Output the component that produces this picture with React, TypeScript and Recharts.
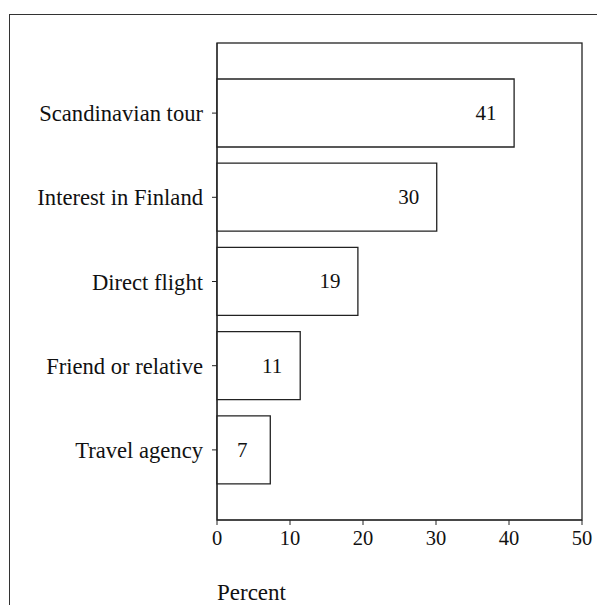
import React from 'react';
import { BarChart, Bar, XAxis, YAxis, LabelList } from 'recharts';

const reasons = ['Scandinavian tour', 'Interest in Finland', 'Direct flight', 'Friend or relative', 'Travel agency'];
const percents = [40.7, 30.1, 19.3, 11.4, 7.3];
const xTicks = [0, 10, 20, 30, 40, 50];

const data = reasons.map((reason, i) => ({ reason, percent: percents[i] }));

const W = 589;
const H = 597;
const margin = { top: 35, right: 15, bottom: 5, left: 0 };
const yAxisWidth = 209;
const xAxisHeight = 80;
const font = '"Liberation Serif", "Times New Roman", serif';
const ink = '#222';

function PlotFrame() {
  const x = margin.left + yAxisWidth;
  const y = margin.top;
  const w = W - margin.right - x;
  const h = H - margin.bottom - xAxisHeight - y;
  return <rect x={x} y={y} width={w} height={h} fill="none" stroke={ink} strokeWidth={1.3} />;
}

function ValueLabel(props: any) {
  const { x, y, width, height, value } = props;
  return (
    <text
      x={x + width - 28}
      y={y + height / 2}
      textAnchor="middle"
      dominantBaseline="central"
      fontFamily={font}
      fontSize={21}
      fill="#111"
    >
      {Math.round(value)}
    </text>
  );
}

export default function App() {
  return (
    <div style={{ position: 'relative', width: W, height: H }}>
      <div
        style={{
          position: 'absolute',
          left: 1,
          top: 6,
          width: W - 1,
          height: H - 6,
          boxSizing: 'border-box',
          borderTop: '1.5px solid #333',
          borderLeft: '1.5px solid #333',
        }}
      />
      <BarChart
        width={W}
        height={H}
        data={data}
        layout="vertical"
        margin={margin}
        barCategoryGap={8}
        style={{ position: 'absolute', left: 0, top: 0 }}
      >
        <XAxis
          type="number"
          domain={[0, 50]}
          ticks={xTicks}
          height={xAxisHeight}
          stroke={ink}
          tickSize={5}
          tickMargin={5}
          tick={{ fontFamily: font, fontSize: 20.5, fill: '#111' }}
          label={{
            value: 'Percent',
            position: 'insideBottomLeft',
            offset: 0,
            style: { fontFamily: font, fontSize: 23, fill: '#111' },
          }}
        />
        <YAxis
          type="category"
          dataKey="reason"
          width={yAxisWidth}
          padding={{ top: 28, bottom: 28 }}
          stroke={ink}
          tickSize={5}
          tickMargin={9}
          interval={0}
          tick={{ fontFamily: font, fontSize: 22.6, fill: '#111' }}
        />
        <Bar dataKey="percent" fill="#fff" stroke={ink} strokeWidth={1.3} isAnimationActive={false}>
          <LabelList dataKey="percent" content={ValueLabel} />
        </Bar>
        <PlotFrame />
      </BarChart>
    </div>
  );
}
